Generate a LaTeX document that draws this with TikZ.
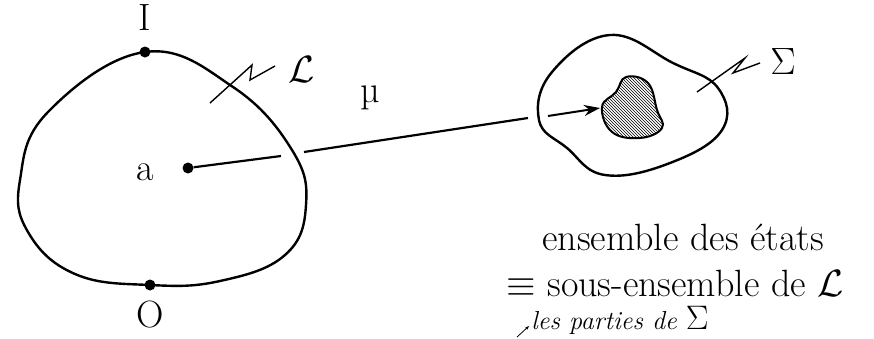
\documentclass[tikz,border=0pt]{standalone}
\usepackage{fix-cm}
\usepackage{fontspec}
\usepackage{amsmath}
\usepackage{amssymb}
\usetikzlibrary{arrows.meta, patterns}

\begin{document}
\begin{tikzpicture}[
  x=1pt, y=-1pt,
  outline/.style={line width=2.4pt, line join=round},
  dot/.style={circle, fill=black, inner sep=0pt, minimum size=11pt},
  zap/.style={line width=1.4pt, line join=miter},
  lbl/.style={font=\fontsize{38}{44}\selectfont, inner sep=0pt},
  note/.style={font=\fontsize{26}{30}\selectfont\itshape, inner sep=0pt},
  arrow/.style={-{Stealth[length=16pt, width=11pt]}, line width=2pt}
]
\useasboundingbox (0,0) rectangle (874,338);

% Lattice L
\draw[outline] plot[smooth cycle, tension=0.7] coordinates {
  (145,52) (233,87) (292,150) (306,205) (285,255) (220,281) (150,285)
  (75,274) (28,232) (20,180) (48,112)};
\node[dot] (I) at (145,52) {};
\node[dot] (O) at (150,285) {};
\node[dot] (a) at (188,168) {};
\node[lbl] (Ilabel) at (145,18) {I};
\node[lbl] (Olabel) at (150,315) {O};
\node[lbl] (alabel) at (145,172) {a};
\draw[zap] (210,103) -- (252,65) -- (250,80) -- (275,66);
\node[lbl] (Llabel) at (302,70) {$\mathcal{L}$};

% map mu
\coordinate (gapin) at (281,156);
\coordinate (gapout) at (304,152);
\coordinate (muend) at (528,118);
\draw[line width=2.2pt] (a) -- (gapin);
\draw[line width=2.2pt] (gapout) -- (muend);
\node[lbl] (mu) at (370,98) {µ};

% state space Sigma
\draw[outline] plot[smooth cycle, tension=0.7] coordinates {
  (610,35) (673,63) (718,88) (722,130) (670,163) (605,175) (567,148)
  (539,120) (552,72)};
\draw[line width=2pt, pattern=north west lines] plot[smooth cycle, tension=0.7] coordinates {
  (626,77) (648,83) (657,110) (662,128) (640,138) (612,132) (602,107)
  (616,92)};
\coordinate (arrstart) at (548,116);
\coordinate (arrend) at (600,108);
\draw[arrow] (arrstart) -- (arrend);
\draw[zap] (697,92) -- (745,58) -- (733,73) -- (760,63);
\node[lbl] (Slabel) at (783,62) {$\Sigma$};

% description
\node[lbl] (states) at (683,237) {ensemble des états};
\node[lbl] (subset) at (675,283) {$\equiv$ sous-ensemble de $\mathcal{L}$};
\node[note] (parts) at (620,320) {les parties de {\fontsize{34}{34}\selectfont$\Sigma$}};
\coordinate (tick) at (517,337);
\draw[-{Stealth[length=4pt]}, line width=0.8pt] (tick) -- (529,326);
\end{tikzpicture}
\end{document}
